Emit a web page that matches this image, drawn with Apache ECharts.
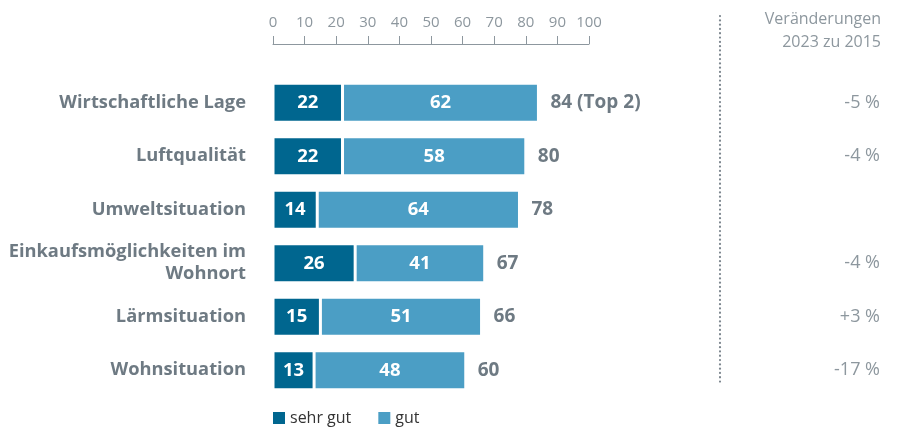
<!DOCTYPE html>
<html>
<head>
<meta charset="utf-8">
<script src="https://cdn.jsdelivr.net/npm/echarts@6/dist/echarts.min.js"></script>
<style>
html,body{margin:0;padding:0;background:#fff;}
#c{width:898px;height:428px;}
</style>
</head>
<body>
<div id="c"></div>
<script>
const categories = ["Wirtschaftliche Lage", "Luftqualität", "Umweltsituation", "Einkaufsmöglichkeiten im\nWohnort", "Lärmsituation", "Wohnsituation"];
const sehrGut = [22, 22, 14, 26, 15, 13];
const gut = [62, 58, 64, 41, 51, 48];
const totalLabels = ["84 (Top 2)", "80", "78", "67", "66", "60"];
const changes = ["-5 %", "-4 %", "", "-4 %", "+3 %", "-17 %"];
const xTicks = [0, 10, 20, 30, 40, 50, 60, 70, 80, 90, 100];

const DARK = '#00668f';
const LIGHT = '#4b9ec5';
const GRAY = '#6e7a83';
const AXIS = '#8d979e';
const FONT = '"Open Sans"';

const chart = echarts.init(document.getElementById('c'), null, {renderer: 'canvas'});
chart.setOption({
  animation: false,
  textStyle: {fontFamily: FONT},
  grid: {left: 273, right: 309, top: 76, bottom: 31},
  legend: {
    data: ['sehr gut', 'gut'],
    left: 268, top: 405,
    icon: 'rect', itemWidth: 12, itemHeight: 12, itemGap: 27,
    itemStyle: {borderWidth: 0},
    textStyle: {fontFamily: FONT, fontSize: 16, color: '#333'}
  },
  xAxis: {
    type: 'value', min: 0, max: 100, interval: 10,
    position: 'top', offset: 32,
    axisLine: {show: true, lineStyle: {color: AXIS, width: 1}},
    axisTick: {show: true, length: 8, lineStyle: {color: AXIS}},
    axisLabel: {color: AXIS, fontSize: 15, margin: 14, fontFamily: FONT,
      formatter: v => xTicks.includes(v) ? String(v) : ''},
    splitLine: {show: false}
  },
  yAxis: [{
    type: 'category', data: categories, inverse: true,
    axisLine: {show: false}, axisTick: {show: false},
    axisLabel: {color: GRAY, fontSize: 18.3, fontWeight: 'bold', margin: 27, lineHeight: 22, fontFamily: FONT, align: 'right'}
  }, {
    type: 'category', data: categories, inverse: true, position: 'right',
    axisLine: {show: false}, axisTick: {show: false},
    axisLabel: {color: AXIS, fontSize: 18, margin: 291, align: 'right', fontFamily: FONT,
      formatter: (v, i) => changes[i]}
  }],
  series: [{
    name: 'sehr gut', type: 'bar', stack: 's', data: sehrGut, barWidth: 39,
    itemStyle: {color: DARK, borderColor: '#fff', borderWidth: 1.5},
    label: {show: true, position: 'inside', color: '#fff', fontSize: 18.5, fontWeight: 'bold', fontFamily: FONT}
  }, {
    name: 'gut', type: 'bar', stack: 's', data: gut, barWidth: 39,
    itemStyle: {color: LIGHT, borderColor: '#fff', borderWidth: 1.5},
    label: {show: true, position: 'inside', color: '#fff', fontSize: 18.5, fontWeight: 'bold', fontFamily: FONT}
  }, {
    name: 'total', type: 'bar', stack: 's', data: sehrGut.map(() => 0), barWidth: 39,
    itemStyle: {color: 'rgba(0,0,0,0)'},
    label: {show: true, position: 'right', distance: 12, color: GRAY, fontSize: 19, fontWeight: 'bold', fontFamily: FONT,
      formatter: p => totalLabels[p.dataIndex]}
  }],
  graphic: [{
    type: 'line', silent: true,
    shape: {x1: 720, y1: 16, x2: 720, y2: 384},
    style: {stroke: '#7d878f', lineWidth: 2.2, lineDash: [0.1, 4.2], lineCap: 'round'}
  }, {
    type: 'text', right: 17, top: 8,
    style: {text: 'Veränderungen\n2023 zu 2015', fill: AXIS, font: '16px "Open Sans"', textAlign: 'right', lineHeight: 23}
  }]
});
</script>
</body>
</html>
